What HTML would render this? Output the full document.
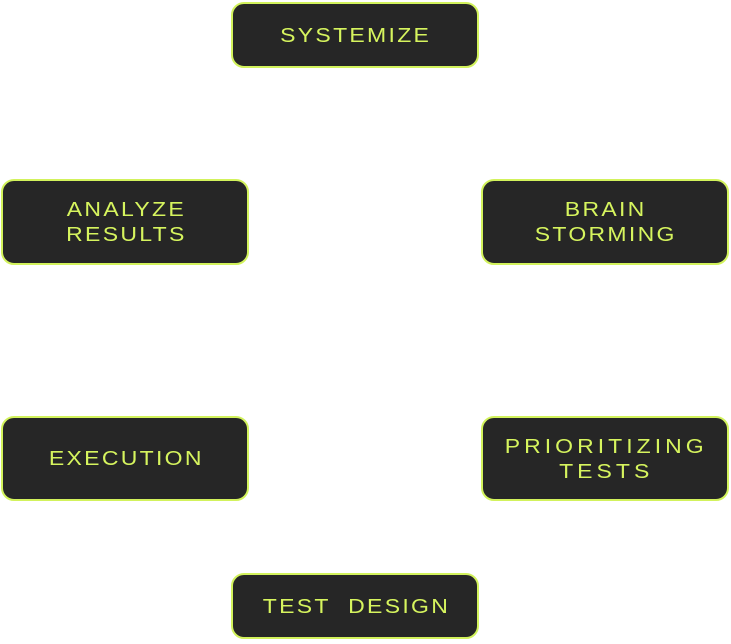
<!DOCTYPE html>
<html><head><style>
body{margin:0;width:731px;height:644px;background:#fff;position:relative;overflow:hidden}
.b{position:absolute;box-sizing:border-box;width:248px;background:#262626;border:2.5px solid #d2f25c;border-radius:13px;display:flex;align-items:center;justify-content:center;text-align:center;color:#d6f45e;font-family:"Liberation Sans",sans-serif;font-size:20px;letter-spacing:2px;line-height:25px;padding-left:2px;padding-top:2px}
.b span{display:inline-block;transform:scaleX(1.15)}
</style></head><body>
<div class="b" style="left:231px;top:2px;height:66px"><span>SYSTEMIZE</span></div>
<div class="b" style="left:1px;top:179px;height:86px"><span>ANALYZE<br>RESULTS</span></div>
<div class="b" style="left:481px;top:179px;height:86px"><span>BRAIN<br>STORMING</span></div>
<div class="b" style="left:1px;top:416px;height:85px"><span>EXECUTION</span></div>
<div class="b" style="left:481px;top:416px;height:85px"><span style="letter-spacing:3.5px">PRIORITIZING<br>TESTS</span></div>
<div class="b" style="left:231px;top:573px;height:66px"><span>TEST&nbsp; DESIGN</span></div>
</body></html>
